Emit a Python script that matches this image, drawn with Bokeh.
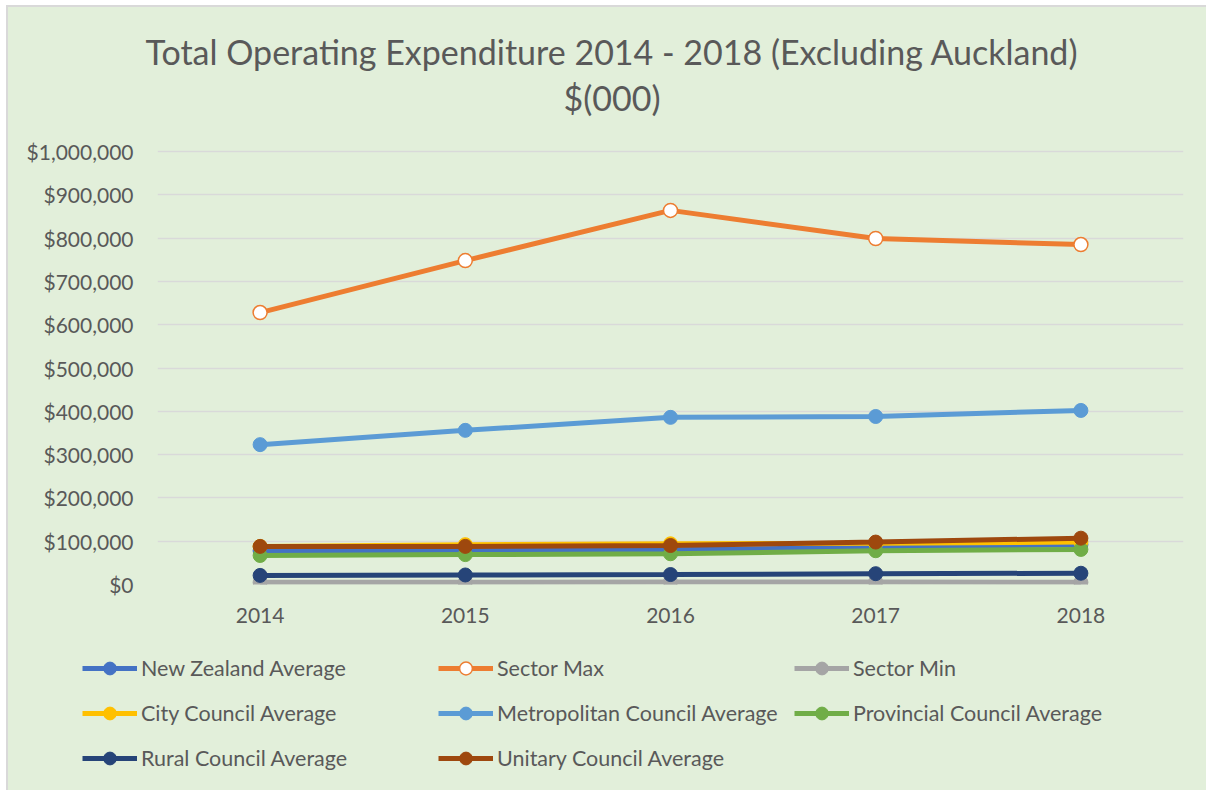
from bokeh.plotting import figure
from bokeh.layouts import column
from bokeh.models import FactorRange, Range1d, FixedTicker, NumeralTickFormatter, Legend, LegendItem, Title
from bokeh.embed import file_html
from bokeh.resources import INLINE

years = ["2014", "2015", "2016", "2017", "2018"]
nz_avg = [78000, 78000, 80000, 86000, 92000]
sector_max = [628000, 748000, 864000, 799000, 785000]
sector_min = [5000, 5000, 6000, 6000, 5000]
city_avg = [88000, 92000, 94000, 95000, 98000]
metro_avg = [323000, 356000, 386000, 388000, 402000]
prov_avg = [67000, 69000, 71000, 78000, 81000]
rural_avg = [21000, 22000, 23000, 25000, 26000]
unitary_avg = [88000, 88000, 90000, 98000, 107000]

series_names = ["New Zealand Average", "Sector Max", "Sector Min", "City Council Average",
                "Metropolitan Council Average", "Provincial Council Average",
                "Rural Council Average", "Unitary Council Average"]
series_values = [nz_avg, sector_max, sector_min, city_avg, metro_avg, prov_avg, rural_avg, unitary_avg]
colors = ["#4472C4", "#ED7D31", "#A5A5A5", "#FFC000", "#5B9BD5", "#70AD47", "#264478", "#9E480E"]
y_ticks = [0, 100000, 200000, 300000, 400000, 500000, 600000, 700000, 800000, 900000, 1000000]
title_line1 = "Total Operating Expenditure 2014 - 2018 (Excluding Auckland)"
title_line2 = "$(000)"

FONT = "Lato"
TXT = "#595959"
BG = "#E2EFDA"

# ---- main chart ----
p = figure(width=1198, height=645, x_range=FactorRange(factors=years),
           y_range=Range1d(0, 1071600), output_backend="svg", toolbar_location=None,
           min_border_left=149, min_border_right=23, min_border_top=113, min_border_bottom=68)
p.frame_align = False
p.background_fill_color = BG
p.border_fill_color = BG
p.outline_line_color = None

p.add_layout(Title(text=title_line2, align="left", offset=406, text_font=FONT, text_font_size="34px",
                   text_font_style="normal", text_color=TXT, standoff=6), "above")
p.add_layout(Title(text=title_line1, align="left", offset=-12,
                   text_font=FONT, text_font_size="34px", text_font_style="normal",
                   text_color=TXT, standoff=0), "above")

p.yaxis.ticker = FixedTicker(ticks=y_ticks)
p.yaxis.formatter = NumeralTickFormatter(format="$0,0")
p.yaxis.axis_line_color = None
p.yaxis.major_tick_line_color = None
p.yaxis.minor_tick_line_color = None
p.yaxis.major_label_text_font = FONT
p.yaxis.major_label_text_font_size = "21px"
p.yaxis.major_label_text_color = TXT
p.yaxis.major_label_standoff = 18

p.xaxis.axis_line_color = None
p.xaxis.major_tick_line_color = None
p.xaxis.minor_tick_line_color = None
p.xaxis.major_tick_out = 0
p.xaxis.major_tick_in = 0
p.xaxis.major_label_text_font = FONT
p.xaxis.major_label_text_font_size = "21px"
p.xaxis.major_label_text_color = TXT
p.xaxis.major_label_standoff = 23

p.xgrid.grid_line_color = None
p.ygrid.grid_line_color = "#D9D9D9"
p.ygrid.grid_line_width = 1.5

for name, vals, col in zip(series_names, series_values, colors):
    p.line(years, vals, line_color=col, line_width=5)
    if name == "Sector Max":
        p.scatter(years, vals, size=14, fill_color="white", line_color=col, line_width=1.5)
    else:
        p.scatter(years, vals, size=14, fill_color=col, line_color=col)

# ---- legend strip (same series styles; its ranges keep the marks out of view) ----
q = figure(width=1198, height=138, x_range=FactorRange(factors=years), y_range=Range1d(-2, -1),
           output_backend="svg", toolbar_location=None, x_axis_location=None, y_axis_location=None,
           min_border=0, min_border_left=0, min_border_right=0, min_border_top=0, min_border_bottom=0)
q.frame_align = False
q.background_fill_color = BG
q.border_fill_color = BG
q.outline_line_color = None
q.xgrid.visible = False
q.ygrid.visible = False

items = []
for name, vals, col in zip(series_names, series_values, colors):
    lr = q.line(years, vals, line_color=col, line_width=5)
    if name == "Sector Max":
        sr = q.scatter(years, vals, size=14, fill_color="white", line_color=col, line_width=1.5)
    else:
        sr = q.scatter(years, vals, size=14, fill_color=col, line_color=col)
    items.append(LegendItem(label=name, renderers=[lr, sr]))

legend = Legend(items=items, orientation="horizontal", ncols=3, location=(74, 16),
                glyph_width=55, glyph_height=32, label_height=32, label_width=284,
                label_standoff=4, spacing=13, padding=0, margin=0,
                border_line_color=None, background_fill_alpha=0,
                label_text_font=FONT, label_text_font_size="21.5px", label_text_color=TXT)
q.add_layout(legend, "center")

layout = column(p, q, spacing=0)
layout.styles = {"margin-left": "6px", "margin-top": "5px", "background-color": BG,
                 "border-left": "2px solid #D9D9D9", "border-top": "2px solid #D9D9D9"}

open("out.html", "w").write(file_html(layout, INLINE))
